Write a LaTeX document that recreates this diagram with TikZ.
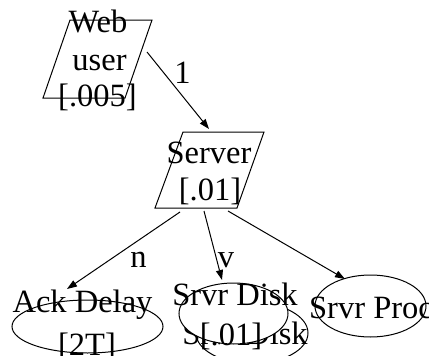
\documentclass[tikz,border=0pt]{standalone}
\usepackage{fontspec}
\setmainfont{Liberation Serif}
\usetikzlibrary{arrows.meta,shapes.geometric}
\begin{document}
\begin{tikzpicture}[x=1pt,y=-1pt,
  txt/.style={anchor=base,inner sep=0pt,font=\fontsize{32.5}{37}\selectfont},
  shapeline/.style={draw=black,line width=1pt},
  ellnode/.style={ellipse,draw=black,line width=1pt,inner sep=0pt,outer sep=0pt},
  conn/.style={draw=black,line width=1pt,-{Triangle[length=10pt,width=7pt]}}]
\useasboundingbox (0,0) rectangle (429,356);
% Web user
\draw[shapeline] (70,20) -- (152,20) -- (125,98) -- (43,98) -- cycle;
\node[txt] (webA) at (98,32) {Web};
\node[txt] (webB) at (99.5,70) {user};
\node[txt] (webC) at (97.5,106) {[.005]};
% Server
\draw[shapeline] (183,132) -- (264,132) -- (237,208) -- (155,208) -- cycle;
\node[txt] (srvA) at (209,163) {Server};
\node[txt] (srvB) at (210,200) {[.01]};
% Ack Delay
\node[ellnode,minimum width=151pt,minimum height=53pt] (ack) at (87.5,326.5) {};
\node[txt] (ackA) at (82.5,312) {Ack Delay};
\node[txt] (ackB) at (87,355) {[2T]};
% Srvr Disk (stacked)
\node[ellnode,minimum width=112pt,minimum height=61pt] (diskback) at (252,333) {};
\node[txt] (diskbackT) at (245,344) {Srvr Disk};
\node[ellnode,fill=white,minimum width=109pt,minimum height=61pt] (disk) at (233.5,313.5) {};
\node[txt] (diskA) at (235,305) {Srvr Disk};
\node[txt] (diskB) at (231,345) {[.01]};
% Srvr Proc
\node[ellnode,minimum width=111pt,minimum height=62pt] (proc) at (370.5,306) {};
\node[txt] (procA) at (371,318) {Srvr Proc};
% connector end points
\coordinate (w1) at (147,52);
\coordinate (s1) at (209,129);
\coordinate (s2) at (180,212);
\coordinate (a1) at (67,289);
\coordinate (s3) at (204,211);
\coordinate (d1) at (222,280);
\coordinate (s4) at (228,211);
\coordinate (p1) at (345,279);
\draw[conn] (w1) -- (s1);
\draw[conn] (s2) -- (a1);
\draw[conn] (s3) -- (d1);
\draw[conn] (s4) -- (p1);
\node[txt] (l1) at (182.5,83) {1};
\node[txt] (ln) at (138.5,267) {n};
\node[txt] (lv) at (226,267) {v};
\end{tikzpicture}
\end{document}
